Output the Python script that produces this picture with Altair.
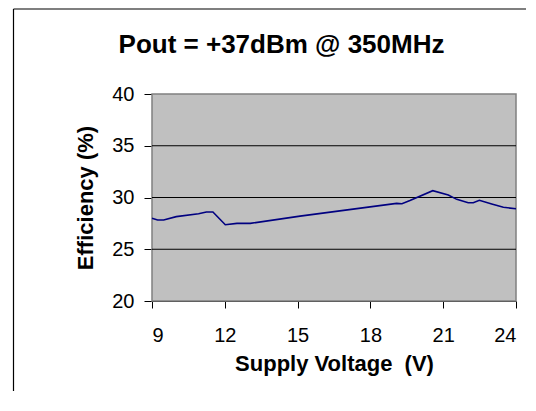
import altair as alt
import pandas as pd

# Data
voltage = [9.0, 9.23, 9.48, 10.0, 10.92, 11.24, 11.51, 12.02, 12.5, 13.05, 15.1,
           19.08, 19.3, 19.63, 20.57, 21.21, 21.56, 22.03, 22.24, 22.49, 23.0, 23.48, 24.0]
efficiency = [28.0, 27.83, 27.83, 28.15, 28.43, 28.6, 28.6, 27.37, 27.5, 27.5, 28.2,
              29.43, 29.4, 29.7, 30.66, 30.24, 29.82, 29.5, 29.5, 29.73, 29.37, 29.05, 28.92]
grid_values = [25, 30, 35]
x_ticks = [9, 12, 15, 18, 21, 24]
y_ticks = [20, 25, 30, 35, 40]
title_text = ["Pout = +37dBm @ 350MHz"]

FONT = "Liberation Sans"

df = pd.DataFrame({"V": voltage, "E": efficiency})
gdf = pd.DataFrame({"g": grid_values})
tdf = pd.DataFrame({"t": title_text})

W, H = 364, 207

xscale = alt.Scale(domain=[9, 24], nice=False, zero=False)
yscale = alt.Scale(domain=[20, 40], nice=False, zero=False)

one = pd.DataFrame({"a": [0]})

plot_bg = alt.Chart(one).mark_rect(fill="#C0C0C0", stroke="#808080", strokeWidth=1.5).encode(
    x=alt.value(0), x2=alt.value(W), y=alt.value(0), y2=alt.value(H)
)

frame_left = alt.Chart(one).mark_rule(color="black", strokeWidth=1.2).encode(
    x=alt.value(-138.5), y=alt.value(-85), y2=alt.value(H + 90)
)
frame_top = alt.Chart(one).mark_rule(color="black", strokeWidth=1.2).encode(
    x=alt.value(-138.5), x2=alt.value(W + 10), y=alt.value(-85)
)

title = alt.Chart(tdf).mark_text(
    font=FONT, fontSize=26, fontWeight="bold", color="black",
    align="center", baseline="alphabetic"
).encode(text="t:N", x=alt.value(129.5), y=alt.value(-41.5))

grid = alt.Chart(gdf).mark_rule(color="black", strokeWidth=1).encode(
    y=alt.Y("g:Q", scale=yscale)
)

line = alt.Chart(df).mark_line(color="#000080", strokeWidth=1.6).encode(
    x=alt.X("V:Q", scale=xscale,
            axis=alt.Axis(values=x_ticks, title="Supply Voltage \u00a0(V)", grid=False,
                          tickSize=7, labelPadding=17, titlePadding=8,
                          labelFontSize=20, titleFontSize=22)),
    y=alt.Y("E:Q", scale=yscale,
            axis=alt.Axis(values=y_ticks, title="Efficiency (%)", grid=False,
                          tickSize=8, labelPadding=10, titlePadding=14,
                          labelFontSize=20, titleFontSize=22)),
)

chart = alt.layer(plot_bg, grid, line, frame_left, frame_top, title).properties(
    width=W, height=H,
    autosize=alt.AutoSizeParams(type="none"),
    padding={"left": 144, "top": 86, "right": 12, "bottom": 92},
).configure_view(
    stroke=None
).configure_axis(
    domainColor="black", tickColor="black", labelColor="black", titleColor="black",
    labelFont=FONT, titleFont=FONT, titleFontWeight="bold", domainWidth=1, tickWidth=1,
    labelFontWeight="normal"
)

chart.save("out.html", embed_options={"renderer": "svg", "actions": False})
